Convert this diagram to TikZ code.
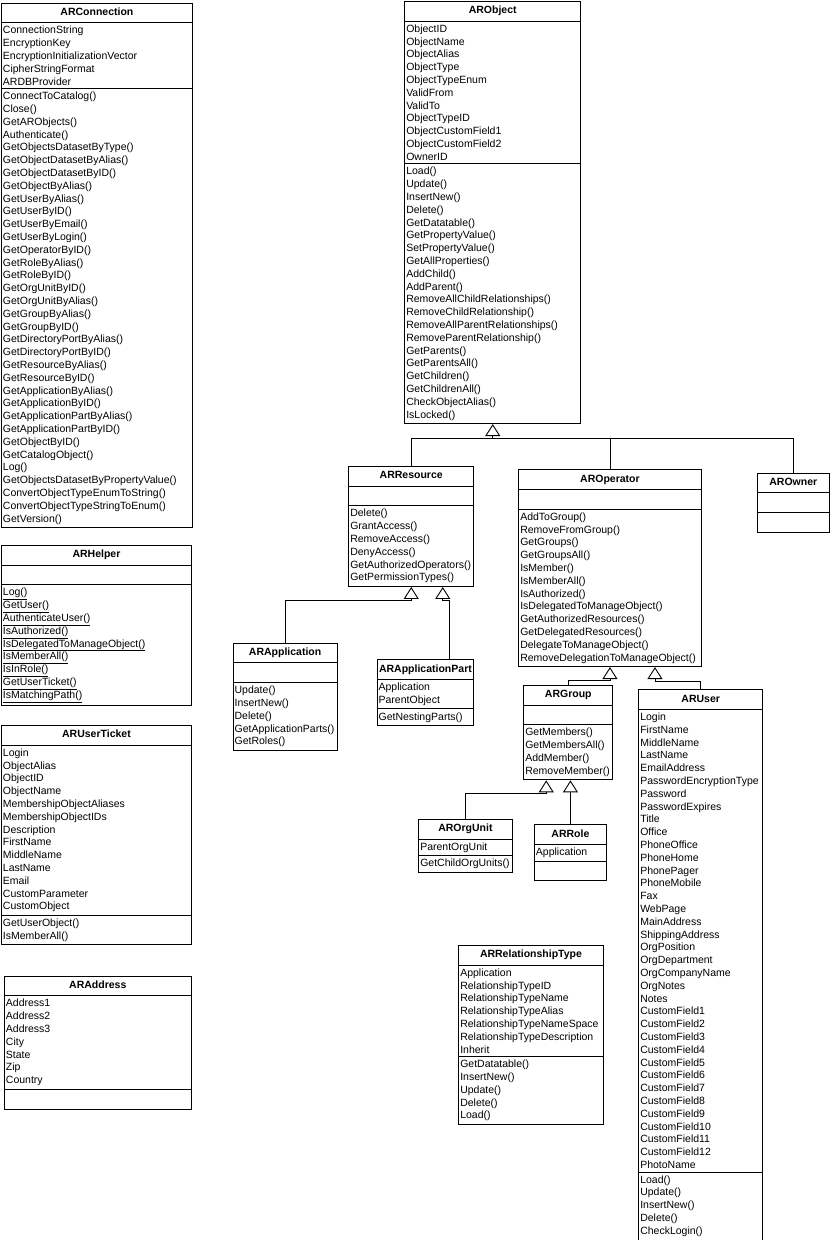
\documentclass[tikz,border=0pt]{standalone}
\usepackage{fontspec}
\setmainfont{Liberation Sans}
\usetikzlibrary{shapes.multipart,arrows.meta,calc}
\newcommand{\umlfont}{\fontsize{10.5}{12.8}\selectfont\hyphenpenalty=10000\uchyph=0 }
\newcommand{\umltitle}[1]{\makebox[\linewidth][c]{\textbf{#1}}\strut}

\tikzset{
  umlclass/.style={draw, line width=0.9pt, rectangle split, rectangle split parts=3,
    text width=#1, inner xsep=1.5pt, inner ysep=3pt, anchor=north west, align=left,
    font=\umlfont},
  inherit/.style={line width=0.9pt, -{Triangle[open, length=12pt, width=15pt]}},
  link/.style={line width=0.9pt}
}

\begin{document}
\begin{tikzpicture}[x=1pt, y=-1pt]
  \useasboundingbox (0,0) rectangle (830,1240);

  % Define nodes
  \node[umlclass=188pt] (conn) at (1,2.7) {\umltitle{ARConnection}
    \nodepart{second} ConnectionString\\ EncryptionKey\\ EncryptionInitializationVector\\
    CipherStringFormat\\ ARDBProvider
    \nodepart{third} ConnectToCatalog()\\ Close()\\ GetARObjects()\\ Authenticate()\\
    GetObjectsDatasetByType()\\ GetObjectDatasetByAlias()\\ GetObjectDatasetByID()\\
    GetObjectByAlias()\\ GetUserByAlias()\\ GetUserByID()\\ GetUserByEmail()\\
    GetUserByLogin()\\ GetOperatorByID()\\ GetRoleByAlias()\\ GetRoleByID()\\
    GetOrgUnitByID()\\ GetOrgUnitByAlias()\\ GetGroupByAlias()\\ GetGroupByID()\\
    GetDirectoryPortByAlias()\\ GetDirectoryPortByID()\\ GetResourceByAlias()\\
    GetResourceByID()\\ GetApplicationByAlias()\\ GetApplicationByID()\\
    GetApplicationPartByAlias()\\ GetApplicationPartByID()\\ GetObjectByID()\\
    GetCatalogObject()\\ Log()\\ GetObjectsDatasetByPropertyValue()\\
    ConvertObjectTypeEnumToString()\\ ConvertObjectTypeStringToEnum()\\ GetVersion()};

  \node[umlclass=187pt] (helper) at (1,545) {\umltitle{ARHelper}
    \nodepart{second}\strut
    \nodepart{third} \underline{Log()}\\ \underline{GetUser()}\\ \underline{AuthenticateUser()}\\
    \underline{IsAuthorized()}\\ \underline{IsDelegatedToManageObject()}\\
    \underline{IsMemberAll()}\\ \underline{IsInRole()}\\ \underline{GetUserTicket()}\\
    \underline{IsMatchingPath()}};

  \node[umlclass=187pt] (ticket) at (1,725) {\umltitle{ARUserTicket}
    \nodepart{second} Login\\ ObjectAlias\\ ObjectID\\ ObjectName\\ MembershipObjectAliases\\
    MembershipObjectIDs\\ Description\\ FirstName\\ MiddleName\\ LastName\\ Email\\
    CustomParameter\\ CustomObject
    \nodepart{third} GetUserObject()\\ IsMemberAll()};

  \node[umlclass=183.7pt] (addr) at (4,975.7) {\umltitle{ARAddress}
    \nodepart{second} Address1\\ Address2\\ Address3\\ City\\ State\\ Zip\\ Country
    \nodepart{third}\strut};

  \node[umlclass=173pt] (obj) at (404.3,1) {\umltitle{ARObject}
    \nodepart{second} ObjectID\\ ObjectName\\ ObjectAlias\\ ObjectType\\ ObjectTypeEnum\\
    ValidFrom\\ ValidTo\\ ObjectTypeID\\ ObjectCustomField1\\ ObjectCustomField2\\ OwnerID
    \nodepart{third} Load()\\ Update()\\ InsertNew()\\ Delete()\\ GetDatatable()\\
    GetPropertyValue()\\ SetPropertyValue()\\ GetAllProperties()\\ AddChild()\\ AddParent()\\
    RemoveAllChildRelationships()\\ RemoveChildRelationship()\\
    RemoveAllParentRelationships()\\ RemoveParentRelationship()\\ GetParents()\\
    GetParentsAll()\\ GetChildren()\\ GetChildrenAll()\\ CheckObjectAlias()\\ IsLocked()};

  \node[umlclass=122pt] (res) at (348.3,466) {\umltitle{ARResource}
    \nodepart{second}\strut
    \nodepart{third} Delete()\\ GrantAccess()\\ RemoveAccess()\\ DenyAccess()\\
    GetAuthorizedOperators()\\ GetPermissionTypes()};

  \node[umlclass=101pt] (app) at (232.7,642.7) {\umltitle{ARApplication}
    \nodepart{second}\strut
    \nodepart{third} Update()\\ InsertNew()\\ Delete()\\ GetApplicationParts()\\ GetRoles()};

  \node[umlclass=93.6pt] (apppart) at (376.7,659.3) {\umltitle{ARApplicationPart}
    \nodepart{second} Application\\ ParentObject
    \nodepart{third} GetNestingParts()};

  \node[umlclass=179.4pt] (oper) at (518.3,469.3) {\umltitle{AROperator}
    \nodepart{second}\strut
    \nodepart{third} AddToGroup()\\ RemoveFromGroup()\\ GetGroups()\\ GetGroupsAll()\\
    IsMember()\\ IsMemberAll()\\ IsAuthorized()\\ IsDelegatedToManageObject()\\
    GetAuthorizedResources()\\ GetDelegatedResources()\\ DelegateToManageObject()\\
    RemoveDelegationToManageObject()};

  \node[umlclass=69.3pt] (owner) at (756.7,472.7) {\umltitle{AROwner}
    \nodepart{second}\strut
    \nodepart{third}\strut};

  \node[umlclass=86pt] (group) at (523.3,685) {\umltitle{ARGroup}
    \nodepart{second}\strut
    \nodepart{third} GetMembers()\\ GetMembersAll()\\ AddMember()\\ RemoveMember()};

  \node[umlclass=90.4pt] (orgunit) at (418.3,819) {\umltitle{AROrgUnit}
    \nodepart{second} ParentOrgUnit
    \nodepart{third} GetChildOrgUnits()};

  \node[umlclass=69pt] (role) at (534,824.3) {\umltitle{ARRole}
    \nodepart{second} Application
    \nodepart{third}\strut};

  \node[umlclass=121pt] (user) at (638.3,689.3) {\umltitle{ARUser}
    \nodepart{second} Login\\ FirstName\\ MiddleName\\ LastName\\ EmailAddress\\
    PasswordEncryptionType\\ Password\\ PasswordExpires\\ Title\\ Office\\ PhoneOffice\\
    PhoneHome\\ PhonePager\\ PhoneMobile\\ Fax\\ WebPage\\ MainAddress\\ ShippingAddress\\
    OrgPosition\\ OrgDepartment\\ OrgCompanyName\\ OrgNotes\\ Notes\\ CustomField1\\
    CustomField2\\ CustomField3\\ CustomField4\\ CustomField5\\ CustomField6\\ CustomField7\\
    CustomField8\\ CustomField9\\ CustomField10\\ CustomField11\\ CustomField12\\ PhotoName
    \nodepart{third} Load()\\ Update()\\ InsertNew()\\ Delete()\\ CheckLogin()};

  \node[umlclass=141.4pt] (reltype) at (458.3,945) {\umltitle{ARRelationshipType}
    \nodepart{second} Application\\ RelationshipTypeID\\ RelationshipTypeName\\
    RelationshipTypeAlias\\ RelationshipTypeNameSpace\\ RelationshipTypeDescription\\ Inherit
    \nodepart{third} GetDatatable()\\ InsertNew()\\ Update()\\ Delete()\\ Load()};

  % Connect the nodes
  \coordinate (objbus) at ($(obj.south)+(0,14)$);
  \draw[inherit] (objbus) -- (obj.south);
  \draw[link] (res.north) |- (objbus) -| (owner.north);
  \draw[link] (oper.north) -- (oper.north |- objbus);

  \draw[inherit] (app.north) |- ($(res.south)+(0,13)$) -- (res.south);
  \draw[inherit] ([xshift=24pt]apppart.north) |- ($(res.south)+(31.5,13)$) -- ($(res.south)+(31.5,0)$);

  \draw[inherit] (group.north) |- ($(oper.south)+(0,13)$) -- (oper.south);
  \draw[inherit] (user.north) |- ($(oper.south)+(45,14)$) -- ($(oper.south)+(45,0)$);

  \draw[inherit] (orgunit.north) |- ($(group.south)+(-22,13)$) -- ($(group.south)+(-22,0)$);
  \draw[inherit] (role.north) -- (role.north |- group.south);
\end{tikzpicture}
\end{document}
